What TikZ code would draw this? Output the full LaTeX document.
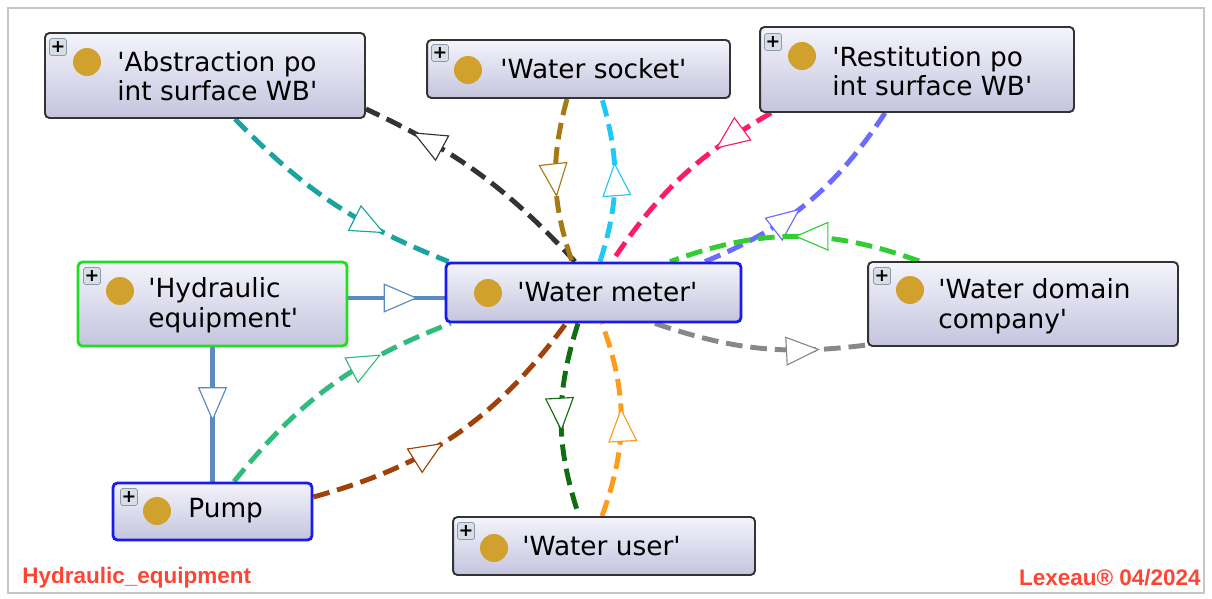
\documentclass[tikz,border=0pt]{standalone}
\usepackage{fontspec}
\setmainfont{DejaVu Sans}
\newfontfamily\footfont{Liberation Sans}
\usetikzlibrary{arrows.meta,decorations.markings}
\pgfdeclarelayer{edgelayer}
\pgfdeclarelayer{nodelayer}
\pgfsetlayers{edgelayer,nodelayer,main}
\definecolor{boxtop}{HTML}{F4F4FC}
\definecolor{boxbot}{HTML}{C4C4DE}
\definecolor{boxgray}{HTML}{333333}
\definecolor{selgreen}{HTML}{22DD22}
\definecolor{selblue}{HTML}{1A1AEE}
\definecolor{gold}{HTML}{D1A12E}
\definecolor{plusfill}{HTML}{D8DEE6}
\definecolor{plusedge}{HTML}{8C9AAA}
\definecolor{footred}{HTML}{FF4433}
\definecolor{cteal}{HTML}{1AA39F}
\definecolor{cdark}{HTML}{333333}
\definecolor{cbrown}{HTML}{A67A12}
\definecolor{ccyan}{HTML}{22C8F4}
\definecolor{cpink}{HTML}{FF1A66}
\definecolor{cviolet}{HTML}{6B6BFF}
\definecolor{cgreen}{HTML}{33CC33}
\definecolor{cgray}{HTML}{888888}
\definecolor{csteel}{HTML}{5A8AC0}
\definecolor{cseagreen}{HTML}{33BB7F}
\definecolor{crust}{HTML}{A0400A}
\definecolor{cdkgreen}{HTML}{0F6E0F}
\definecolor{corange}{HTML}{FF9A1A}
\newcommand\squote{\textquotesingle}
\tikzstyle{entity}=[draw=boxgray, line width=1.1pt, rounded corners=2.5pt, top color=boxtop, bottom color=boxbot, inner sep=0pt]
\tikzstyle{golddot}=[circle, fill=gold, minimum size=0.56cm, inner sep=0pt]
\tikzstyle{plusbox}=[draw=plusedge, fill=plusfill, minimum size=0.34cm, inner sep=0pt, rounded corners=1pt, font=\fontsize{10}{10}\selectfont\bfseries]
\tikzstyle{entitytext}=[anchor=west, align=left, inner sep=0pt, font=\fontsize{15}{16.8}\selectfont]
\tikzstyle{link}=[line width=2.8pt, dash pattern=on 9.5pt off 4.5pt]
\tikzstyle{flow}=[line width=2.8pt, draw=csteel]
\tikzstyle{footer}=[inner sep=0pt, text=footred, font=\footfont\bfseries\fontsize{12.8}{14}\selectfont]
\tikzset{midarrow/.style={postaction={decorate, decoration={markings, mark=at position #1 with {\arrow{Triangle[fill=white, length=0.68cm, width=0.58cm, line width=0.65pt]}}}}}}

\begin{document}
\begin{tikzpicture}[x=0.02cm, y=-0.02cm]
	\useasboundingbox (0,0) rectangle (1212,598);
	\draw[gray!45, line width=1.5pt] (8,8) rectangle (1204,593);
	\begin{pgfonlayer}{nodelayer}
		\node [style=entity, minimum width=6.4cm, minimum height=1.7cm] (abs) at (205,75.5) {};
		\node [style=plusbox] (abs-plus) at (58,47) {+};
		\node [style=golddot] (abs-dot) at (87,62) {};
		\node [style=entitytext] (abs-text) at (117,76) {\squote Abstraction po\\int surface WB\squote};

		\node [style=entity, minimum width=6.06cm, minimum height=1.16cm] (socket) at (578.5,69) {};
		\node [style=plusbox] (socket-plus) at (440,53) {+};
		\node [style=golddot] (socket-dot) at (468,70) {};
		\node [style=entitytext] (socket-text) at (500,69) {\squote Water socket\squote};

		\node [style=entity, minimum width=6.28cm, minimum height=1.7cm] (rest) at (917,69.5) {};
		\node [style=plusbox] (rest-plus) at (773,42) {+};
		\node [style=golddot] (rest-dot) at (802,56) {};
		\node [style=entitytext] (rest-text) at (832,71) {\squote Restitution po\\int surface WB\squote};

		\node [style=entity, draw=selgreen, line width=1.6pt, minimum width=5.38cm, minimum height=1.68cm] (hyd) at (212.5,304) {};
		\node [style=plusbox] (hyd-plus) at (92,276) {+};
		\node [style=golddot] (hyd-dot) at (120,291) {};
		\node [style=entitytext] (hyd-text) at (148,305) {\squote Hydraulic\\equipment\squote};

		\node [style=entity, draw=selblue, line width=1.6pt, minimum width=5.9cm, minimum height=1.18cm] (wm) at (593.5,292.5) {};
		\node [style=golddot] (wm-dot) at (488,293) {};
		\node [style=entitytext] (wm-text) at (517,292) {\squote Water meter\squote};

		\node [style=entity, minimum width=6.2cm, minimum height=1.68cm] (domain) at (1023,304) {};
		\node [style=plusbox] (domain-plus) at (882,276) {+};
		\node [style=golddot] (domain-dot) at (910,290) {};
		\node [style=entitytext] (domain-text) at (938,306) {\squote Water domain\\company\squote};

		\node [style=entity, draw=selblue, line width=1.6pt, minimum width=3.98cm, minimum height=1.14cm] (pump) at (212.5,511.5) {};
		\node [style=plusbox] (pump-plus) at (129,497) {+};
		\node [style=golddot] (pump-dot) at (157,511) {};
		\node [style=entitytext] (pump-text) at (188,511) {Pump};

		\node [style=entity, minimum width=6.04cm, minimum height=1.16cm] (user) at (604,546) {};
		\node [style=plusbox] (user-plus) at (466,531) {+};
		\node [style=golddot] (user-dot) at (494,548) {};
		\node [style=entitytext] (user-text) at (522,546) {\squote Water user\squote};
	\end{pgfonlayer}
	\begin{pgfonlayer}{edgelayer}
		\draw [link, cteal, midarrow=0.73] ([xshift=0.6cm]abs.south) to[bend right=12] ([xshift=0.08cm]wm.north west);
		\draw [link, cdark, midarrow=0.8] ([xshift=-0.37cm]wm.north) to[bend right=11] ([yshift=0.2cm]abs.south east);
		\draw [link, cbrown, midarrow=0.6] ([xshift=-0.23cm]socket.south) to[bend right=17] ([xshift=-0.43cm]wm.north);
		\draw [link, ccyan, midarrow=0.61] ([xshift=0.13cm]wm.north) to[bend right=17] ([xshift=0.47cm]socket.south);
		\draw [link, cpink, midarrow=0.3] ([xshift=0.24cm]rest.south west) to[bend right=13] ([xshift=0.37cm]wm.north);
		\draw [link, cviolet, midarrow=0.46] ([xshift=2.23cm]wm.north) to[bend right=17] ([xshift=-0.64cm]rest.south);
		\draw [link, cgreen, midarrow=0.5] ([xshift=1.04cm]domain.north west) to[bend right=20] ([xshift=1.53cm]wm.north);
		\draw [link, cgray, midarrow=0.78] ([xshift=1.23cm]wm.south) to[bend right=13] ([yshift=0.04cm]domain.south west);
		\draw [flow, midarrow=0.72] ([yshift=-0.11cm]wm.west -| hyd.east) -- ([yshift=-0.11cm]wm.west);
		\draw [flow, midarrow=0.55] (hyd.south) -- (pump.north);
		\draw [link, cseagreen, midarrow=0.72] ([xshift=0.43cm]pump.north) to[bend left=15] ([xshift=0.12cm]wm.south west);
		\draw [link, crust, midarrow=0.45] ([yshift=0.29cm]pump.east) to[bend right=19] ([xshift=-0.55cm]wm.south);
		\draw [link, cdkgreen, midarrow=0.56] ([xshift=-0.31cm]wm.south) to[bend right=18] ([xshift=-0.5cm]user.north);
		\draw [link, corange, midarrow=0.56] ([xshift=-0.04cm]user.north) to[bend right=20] ([xshift=0.17cm]wm.south);
	\end{pgfonlayer}
	\node [style=footer, anchor=west] (diagram-name) at (22,578) {Hydraulic\_equipment};
	\node [style=footer, anchor=east] (stamp) at (1201,578) {Lexeau® 04/2024};
\end{tikzpicture}
\end{document}
